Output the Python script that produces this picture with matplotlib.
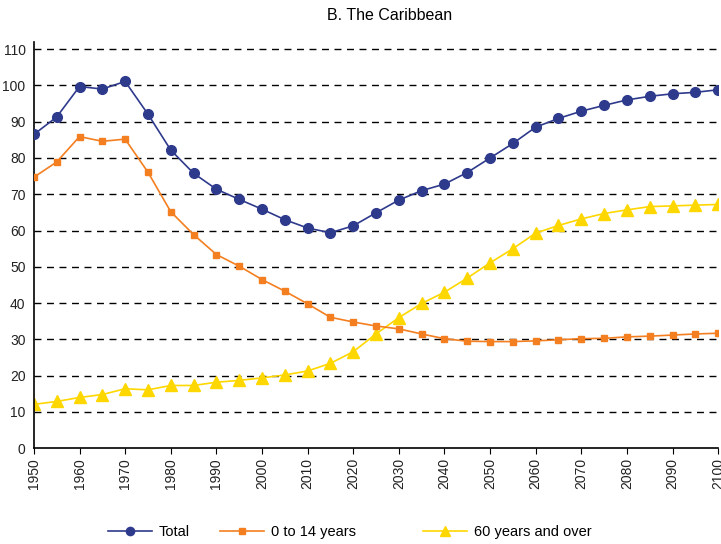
import numpy as np
import matplotlib
matplotlib.use("Agg")
import matplotlib.pyplot as plt

plt.rcParams['font.family'] = ['Liberation Sans', 'DejaVu Sans']

# Years, 5-year steps
years = np.arange(1950, 2101, 5)

# Dependency ratios
total = [86.5, 91.3, 99.7, 99.0, 101.1, 92.1, 82.2, 75.8, 71.4, 68.6,
         65.9, 63.0, 60.7, 59.4, 61.3, 64.9, 68.4, 71.0, 72.8, 76.0,
         80.0, 84.0, 88.5, 90.9, 92.9, 94.5, 96.0, 97.0, 97.7, 98.1, 98.8]
young = [74.7, 78.9, 85.9, 84.6, 85.2, 76.1, 65.2, 58.9, 53.4, 50.2,
         46.5, 43.3, 39.8, 36.1, 34.8, 33.7, 32.9, 31.5, 30.2, 29.5,
         29.4, 29.4, 29.6, 29.9, 30.2, 30.3, 30.7, 30.9, 31.2, 31.5, 31.7]
old = [12.1, 12.9, 14.0, 14.8, 16.4, 16.1, 17.3, 17.3, 18.2, 18.7,
       19.4, 20.2, 21.3, 23.4, 26.6, 31.5, 36.0, 39.9, 43.0, 46.9,
       51.1, 55.0, 59.3, 61.4, 63.2, 64.7, 65.7, 66.6, 66.8, 67.0, 67.2]

labels = ["Total", "0 to 14 years", "60 years and over"]
xticks = np.arange(1950, 2101, 10)
yticks = np.arange(0, 111, 10)

fig = plt.figure(figsize=(7.21, 5.44), dpi=100)
ax = fig.add_axes([0.047, 0.176, 0.949, 0.747])

l1, = ax.plot(years, total, '-o', color='#2E3A8C', lw=1.2, markersize=7,
              label=labels[0], zorder=4)
l2, = ax.plot(years, young, '-s', color='#F47F20', lw=1.2, markersize=5,
              label=labels[1], zorder=3)
l3, = ax.plot(years, old, '-^', color='#FFD700', lw=1.2, markersize=8,
              label=labels[2], zorder=2)

ax.set_xlim(1950, 2100)
ax.set_ylim(0, 112)
ax.set_xticks(xticks)
ax.set_xticklabels([str(y) for y in xticks], rotation=90, fontsize=10)
ax.set_yticks(yticks)
ax.set_yticklabels([str(v) for v in yticks], fontsize=10, color='#222222')
ax.tick_params(axis='y', length=0, pad=6)
ax.tick_params(axis='x', length=4, direction='out', pad=3, labelcolor='#222222')

for v in yticks[1:]:
    ax.axhline(v, color='black', lw=1, ls=(0, (5, 4)), zorder=1)

for s in ['top', 'right']:
    ax.spines[s].set_visible(False)
ax.spines['left'].set_linewidth(1.2)
ax.spines['bottom'].set_linewidth(1.2)

fig.text(0.541, 0.972, "B. The Caribbean", ha='center', va='center',
         fontsize=11.5)

for h, x in zip([l1, l2, l3], [108, 220, 423]):
    fig.legend(handles=[h], loc='center left', bbox_to_anchor=(x / 721, 1 - 532 / 544),
               frameon=False, fontsize=10.5, handlelength=3.0, markerscale=0.85,
               handletextpad=0.5, borderpad=0, borderaxespad=0)

plt.savefig('out.png', dpi=100)
